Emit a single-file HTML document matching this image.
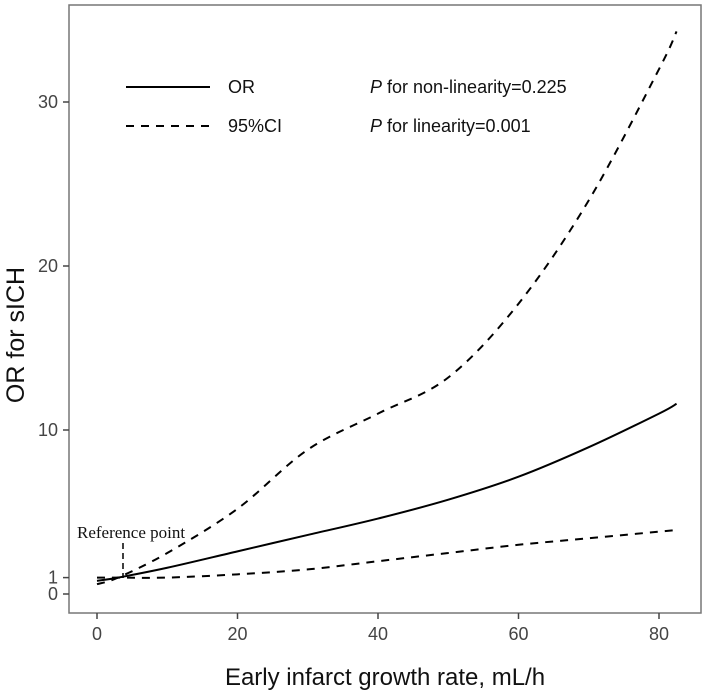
<!DOCTYPE html>
<html><head><meta charset="utf-8"><style>
body{margin:0;background:#fff;}
svg{display:block;font-family:"Liberation Sans",sans-serif;}
</style></head><body>
<svg id="chart" width="707" height="694">
<rect x="69" y="5" width="632" height="608" fill="none" stroke="#777" stroke-width="1.5"/>
<g id="axes"></g>
<g id="series"></g>
<text x="24" y="335" transform="rotate(-90 24 335)" text-anchor="middle" font-size="25" fill="#111">OR for sICH</text>
<text x="385" y="685" text-anchor="middle" font-size="24" fill="#111">Early infarct growth rate, mL/h</text>
<g>
<line x1="126" y1="87" x2="210" y2="87" stroke="#000" stroke-width="2"/>
<text x="228" y="93" font-size="18" fill="#111">OR</text>
<line x1="126" y1="126" x2="210" y2="126" stroke="#000" stroke-width="2" stroke-dasharray="8,7"/>
<text x="228" y="132" font-size="18" fill="#111">95%CI</text>
<text x="370" y="93" font-size="18" fill="#111"><tspan font-style="italic">P</tspan> for non-linearity=0.225</text>
<text x="370" y="132" font-size="18" fill="#111"><tspan font-style="italic">P</tspan> for linearity=0.001</text>
</g>
<text x="77" y="538" font-size="17" font-family="Liberation Serif,serif" fill="#111">Reference point</text>
<line x1="123" y1="543" x2="123" y2="578" stroke="#000" stroke-width="1.5" stroke-dasharray="6,4"/>
</svg>
<script>
const xTicks=[0,20,40,60,80];
const yTicks=[0,1,10,20,30];
const xs=[0,3,10,20,30,40,50,60,70,80,82.5];
const orVals=[0.8,1,1.6,2.6,3.6,4.6,5.75,7.15,8.95,11.0,11.6];
const upperVals=[0.6,1,2.5,5.2,8.8,11.0,13.2,17.7,24,32,34.3];
const lowerVals=[1.0,1,1.0,1.2,1.5,2.0,2.5,3.0,3.4,3.8,3.9];
const NS='http://www.w3.org/2000/svg';
function sx(v){return 97+v*7.025;}
function sy(v){return 594-v*16.4;}
const axes=document.getElementById('axes');
const series=document.getElementById('series');
function mk(tag,attrs,parent){const e=document.createElementNS(NS,tag);for(const k in attrs)e.setAttribute(k,attrs[k]);parent.appendChild(e);return e;}
xTicks.forEach(t=>{
 const l=mk('line',{x1:sx(t),x2:sx(t),y1:613,y2:619,stroke:'#444','stroke-width':1.5},axes);
 
 
 const tx=mk('text',{x:sx(t),y:640,'text-anchor':'middle','font-size':18,fill:'#444'},axes);
 tx.textContent=t;
 
 
});
yTicks.forEach(t=>{
 const l=mk('line',{x1:63,x2:69,y1:sy(t),y2:sy(t),stroke:'#444','stroke-width':1.5},axes);
 
 
 const tx=mk('text',{x:58,y:sy(t)+6,'text-anchor':'end','font-size':18,fill:'#444'},axes);
 tx.textContent=t;
 
 
});
function path(vals){
 const p=xs.map((x,i)=>[sx(x),sy(vals[i])]);
 let d='M'+p[0][0]+','+p[0][1];
 for(let i=0;i<p.length-1;i++){
  const p0=p[Math.max(0,i-1)],p1=p[i],p2=p[i+1],p3=p[Math.min(p.length-1,i+2)];
  const c1=[p1[0]+(p2[0]-p0[0])/6,p1[1]+(p2[1]-p0[1])/6];
  const c2=[p2[0]-(p3[0]-p1[0])/6,p2[1]-(p3[1]-p1[1])/6];
  d+=' C'+c1[0]+','+c1[1]+' '+c2[0]+','+c2[1]+' '+p2[0]+','+p2[1];
 }
 return d;
}
const up=mk('path',{d:path(upperVals),fill:'none',stroke:'#000','stroke-width':2,'stroke-dasharray':'8,7'},series);


const lo=mk('path',{d:path(lowerVals),fill:'none',stroke:'#000','stroke-width':2,'stroke-dasharray':'8,7'},series);


const orl=mk('path',{d:path(orVals),fill:'none',stroke:'#000','stroke-width':2},series);


</script>
</body></html>
